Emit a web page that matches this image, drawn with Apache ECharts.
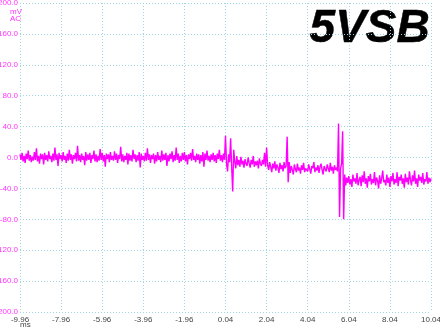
<!DOCTYPE html>
<html><head><meta charset="utf-8">
<script src="https://cdn.jsdelivr.net/npm/echarts@6/dist/echarts.min.js"></script>
<style>html,body{margin:0;padding:0;background:#fff}#c{width:440px;height:330px}</style>
</head><body><div id="c"></div>
<script>
// time step 0.05 ms starting at -9.96 ms
const tStart = -9.96, tStep = 0.05;
// trace values (mV)
const traceValues = [
4,-3,6,-5,2,-7,5,-2,9,-4,
3,-6,1,-4,7,-3,12,-5,2,-8,
5,-2,4,-9,6,-3,3,-5,8,-2,
2,-6,5,-4,13,-3,4,-11,6,-2,
3,-5,7,-3,2,-7,5,-4,10,-3,
4,-8,3,-2,6,-5,15,-4,3,-6,
5,-3,2,-10,7,-4,4,-3,6,-7,
3,-2,9,-5,4,-6,2,-4,11,-3,
6,-5,3,-12,5,-2,4,-6,7,-3,
2,-4,8,-3,5,-7,3,-2,14,-5,
4,-6,2,-3,6,-9,5,-4,3,-5,
10,-2,4,-6,3,-4,7,-13,5,-3,
2,-5,6,-4,12,-3,4,-7,3,-2,
5,-8,3,-5,7,-3,2,-6,9,-4,
4,-3,6,-11,3,-5,5,-2,8,-6,
3,-4,13,-3,5,-7,2,-5,6,-3,
7,-5,3,-9,4,-2,6,-4,11,-3,
2,-6,5,-3,4,-8,3,-5,7,-12,
5,-3,9,-4,2,-6,4,-3,6,-5,
3,-7,5,-2,10,-4,3,-6,5,-3,
28,-8,-18,4,-6,25,-12,-44,10,-5,
-14,2,-10,-3,-12,1,-9,-4,-13,-2,
-8,-11,0,-7,-13,-3,-9,2,-12,-5,
-10,-4,-14,-1,-8,-11,-3,-9,6,-12,
13,-10,-16,-6,-12,-19,-8,-14,-5,-17,
-9,-13,-20,-7,-15,-10,-18,-6,-14,-11,
27,-32,-6,-20,-11,-16,-22,-9,-15,-19,
-8,-17,-13,-21,-10,-16,-7,-19,-14,-12,
-18,-9,-15,-21,-11,-14,-6,-19,-13,-17,
-10,-20,-12,-8,-16,-22,-11,-15,-18,-9,
-14,-19,-7,-17,-12,-21,-10,-16,-13,-18,
44,-77,-14,-8,34,-80,-22,-36,-26,-33,
-24,-35,-28,-38,-22,-31,-27,-34,-20,-36,
-29,-25,-37,-23,-32,-18,-34,-27,-39,-24,
-31,-21,-35,-28,-33,-19,-36,-26,-30,-40,
-23,-34,-27,-17,-32,-29,-36,-22,-33,-26,
-38,-24,-31,-20,-35,-28,-33,-19,-37,-25,
-30,-22,-34,-27,-39,-21,-32,-26,-35,-18,
-29,-36,-23,-31,-17,-34,-27,-38,-22,-30,
-25,-33,-20,-35,-28,-31,-19,-34,-26,-32,
-27
];
const yTicks = [-200,-160,-120,-80,-40,0,40,80,120,160,200];
const xTicks = [-9.96,-7.96,-5.96,-3.96,-1.96,0.04,2.04,4.04,6.04,8.04,10.04];
const titleText = '5VSB';

const tracePts = traceValues.map((v,i)=>[+(tStart+i*tStep).toFixed(2), v]);

const chart = echarts.init(document.getElementById('c'), null, {renderer:'canvas'});
const gridColor = '#9fd6e2';
const gridLine = {show:true,lineStyle:{color:gridColor,type:[1,2],width:1}};
chart.setOption({
  animation:false,
  grid:{left:20,right:9,top:3,bottom:18,containLabel:false,outerBoundsMode:'none'},
  xAxis:{type:'value',min:xTicks[0],max:xTicks[xTicks.length-1],interval:2,
    axisLine:{show:false},axisTick:{show:false},
    splitLine:gridLine,
    axisLabel:{color:'#444',fontSize:8,fontFamily:'Liberation Sans',margin:4,showMinLabel:true,showMaxLabel:true,
      formatter:v=>v.toFixed(2)}},
  yAxis:{type:'value',min:yTicks[0],max:yTicks[yTicks.length-1],interval:40,
    axisLine:{show:false},axisTick:{show:false},
    splitLine:gridLine,
    axisLabel:{color:'#ff33ff',fontSize:8,fontFamily:'Liberation Sans',margin:2,
      formatter:v=>v.toFixed(1)}},
  graphic:[
    {type:'text',left:10,top:8,style:{text:'mV',fill:'#ff33ff',font:'8px "Liberation Sans"'}},
    {type:'text',left:10,top:15,style:{text:'AC',fill:'#ff33ff',font:'8px "Liberation Sans"'}},
    {type:'text',left:20,top:321,style:{text:'ms',fill:'#444',font:'8px "Liberation Sans"'}},
    {type:'text',right:10,top:6,style:{text:titleText,font:'italic bold 46px "Liberation Sans"',
      fill:new echarts.graphic.LinearGradient(0,0,0,1,[{offset:0,color:'#888'},{offset:0.5,color:'#151515'},{offset:1,color:'#555'}]),
      stroke:'#000',lineWidth:0.5}}
  ],
  series:[
    {type:'line',data:tracePts,showSymbol:false,symbol:'none',lineStyle:{color:'#ff00ff',width:1.4},z:3}
  ]
});
</script></body></html>
